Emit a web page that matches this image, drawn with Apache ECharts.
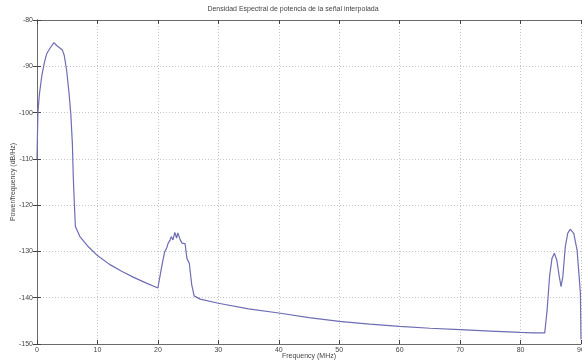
<!DOCTYPE html>
<html>
<head>
<meta charset="utf-8">
<script src="https://cdn.jsdelivr.net/npm/echarts@6/dist/echarts.min.js"></script>
<style>
html,body{margin:0;padding:0;background:#fff;}
#chart{width:582px;height:364px;}
</style>
</head>
<body>
<div id="chart"></div>
<script>
// Frequency (MHz)
var freqs = [0, 0.15, 0.4, 0.8, 1.2, 1.6, 2.15, 2.8, 3.25, 3.5, 4.2, 4.5, 4.9, 5.3, 5.6, 5.85, 6.0, 6.2, 6.35,
  7.1, 8.5, 10, 12, 14, 16, 18, 20,
  20.6, 21.1, 21.5, 21.7, 22.0, 22.2, 22.5, 22.8, 23.1, 23.3, 23.7, 24.0, 24.3, 24.5, 24.8, 25.2, 25.6, 26.0, 27,
  30, 35, 40, 45, 50, 55, 60, 65, 70, 75, 80, 82, 84,
  84.4, 84.8, 85.2, 85.6, 86.0, 86.4, 86.7, 87.0, 87.4, 87.8, 88.2, 88.8, 89.35, 89.9, 90];
// Power/frequency (dB/Hz)
var power = [-110, -100, -96, -92, -89.3, -87.3, -86.1, -84.9, -85.5, -85.9, -86.5, -87.6, -90.8, -95.8, -100.5, -106.6, -113.8, -120.3, -124.6,
  -126.8, -129, -130.9, -132.8, -134.3, -135.6, -136.8, -137.9,
  -133.5, -130.2, -129.1, -128.2, -127.6, -126.8, -127.5, -125.9, -127.1, -126.0, -127.5, -128.2, -128.6, -128.3, -131.5, -132.6, -137.2, -139.6, -140.3,
  -141.2, -142.4, -143.3, -144.3, -145.1, -145.7, -146.2, -146.6, -146.9, -147.2, -147.5, -147.6, -147.6,
  -142.6, -135.4, -131.5, -130.4, -131.9, -135.4, -137.6, -135.4, -129.0, -126.1, -125.2, -126.1, -129.7, -139.0, -149.0];
var xTicks = [0, 10, 20, 30, 40, 50, 60, 70, 80, 90];
var yTicks = [-150, -140, -130, -120, -110, -100, -90, -80];

var pts = freqs.map(function (f, i) { return [f, power[i]]; });

var chart = echarts.init(document.getElementById('chart'), null, {renderer: 'canvas'});
var labelStyle = {fontSize: 7, color: '#444', fontFamily: 'Liberation Sans, Arial, sans-serif'};
var axisLine = {show: true, lineStyle: {color: '#6a6a6a', width: 1}};
var tickInside = {show: true, inside: true, length: 4, lineStyle: {color: '#444'}};

chart.setOption({
  backgroundColor: '#fff',
  animation: false,
  title: {
    text: 'Densidad Espectral de potencia de la señal interpolada',
    left: 288, top: 1, textAlign: 'center',
    textStyle: {fontSize: 7, fontWeight: 'normal', color: '#444', fontFamily: 'Liberation Sans, Arial, sans-serif'}
  },
  grid: {left: 37, right: 1, top: 20, bottom: 20, containLabel: false, outerBoundsMode: 'none'},
  xAxis: [{
    type: 'value', min: xTicks[0], max: xTicks[xTicks.length - 1], interval: 10, position: 'bottom',
    name: 'Frequency (MHz)', nameLocation: 'middle', nameGap: 9, nameMoveOverlap: false,
    nameTextStyle: labelStyle,
    axisLine: axisLine, axisTick: tickInside,
    axisLabel: Object.assign({margin: 3, showMaxLabel: true}, labelStyle),
    splitLine: {show: true, lineStyle: {color: '#c4c4c4', type: [1, 2], width: 1}}
  }, {
    type: 'value', min: xTicks[0], max: xTicks[xTicks.length - 1], interval: 10, position: 'top',
    axisLine: axisLine, axisTick: tickInside, axisLabel: {show: false}, splitLine: {show: false}
  }],
  yAxis: [{
    type: 'value', min: yTicks[0], max: yTicks[yTicks.length - 1], interval: 10, position: 'left',
    name: 'Power/frequency (dB/Hz)', nameLocation: 'middle', nameGap: 20, nameRotate: 90, nameMoveOverlap: false,
    nameTextStyle: labelStyle,
    axisLine: axisLine, axisTick: tickInside,
    axisLabel: Object.assign({margin: 4}, labelStyle),
    splitLine: {show: true, lineStyle: {color: '#c4c4c4', type: [1, 2], width: 1}}
  }, {
    type: 'value', min: yTicks[0], max: yTicks[yTicks.length - 1], interval: 10, position: 'right',
    axisLine: axisLine, axisTick: tickInside, axisLabel: {show: false}, splitLine: {show: false}
  }],
  series: [{
    type: 'line', xAxisIndex: 0, yAxisIndex: 0, data: pts,
    showSymbol: false, smooth: false,
    lineStyle: {color: '#6d6db4', width: 1.2},
    itemStyle: {color: '#6d6db4'}
  }]
});
</script>
</body>
</html>
